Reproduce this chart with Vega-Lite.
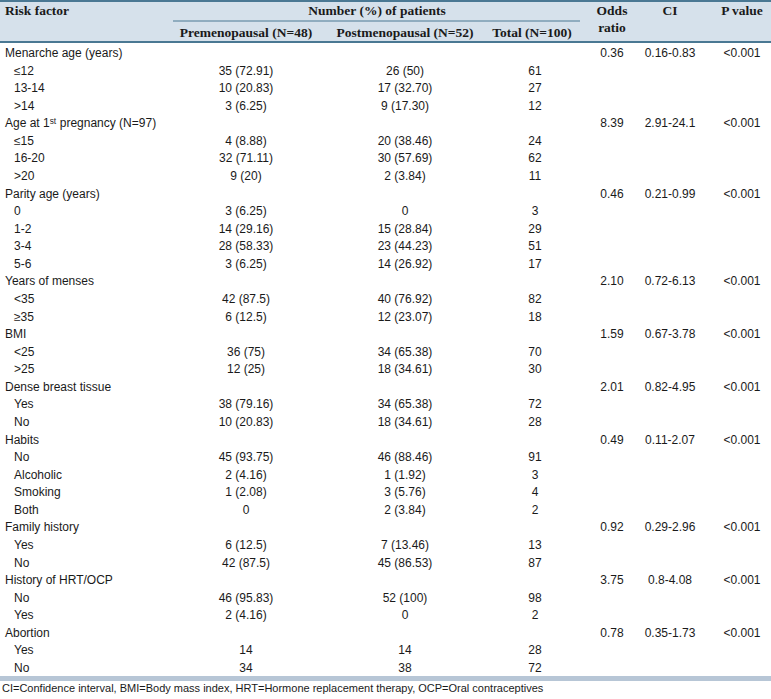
{
  "$schema": "https://vega.github.io/schema/vega-lite/v6.json",
  "width": 771,
  "height": 699,
  "autosize": "none",
  "padding": 0,
  "background": "white",
  "config": {"view": {"stroke": null}},
  "datasets": {
    "cols": [
      {"k": "g", "i": 0}, {"k": "s", "i": 1}, {"k": "pre", "i": 2}, {"k": "post", "i": 3},
      {"k": "total", "i": 4}, {"k": "or", "i": 5}, {"k": "ci", "i": 6}, {"k": "p", "i": 7}
    ],
    "rows": [
      {"r": 1, "lvl": "g", "f": "Menarche age (years)", "or": "0.36", "ci": "0.16-0.83", "p": "<0.001"},
      {"r": 2, "lvl": "s", "f": "≤12", "pre": "35 (72.91)", "post": "26 (50)", "total": "61"},
      {"r": 3, "lvl": "s", "f": "13-14", "pre": "10 (20.83)", "post": "17 (32.70)", "total": "27"},
      {"r": 4, "lvl": "s", "f": ">14", "pre": "3 (6.25)", "post": "9 (17.30)", "total": "12"},
      {"r": 5, "lvl": "g", "f": "Age at 1ˢᵗ pregnancy (N=97)", "or": "8.39", "ci": "2.91-24.1", "p": "<0.001"},
      {"r": 6, "lvl": "s", "f": "≤15", "pre": "4 (8.88)", "post": "20 (38.46)", "total": "24"},
      {"r": 7, "lvl": "s", "f": "16-20", "pre": "32 (71.11)", "post": "30 (57.69)", "total": "62"},
      {"r": 8, "lvl": "s", "f": ">20", "pre": "9 (20)", "post": "2 (3.84)", "total": "11"},
      {"r": 9, "lvl": "g", "f": "Parity age (years)", "or": "0.46", "ci": "0.21-0.99", "p": "<0.001"},
      {"r": 10, "lvl": "s", "f": "0", "pre": "3 (6.25)", "post": "0", "total": "3"},
      {"r": 11, "lvl": "s", "f": "1-2", "pre": "14 (29.16)", "post": "15 (28.84)", "total": "29"},
      {"r": 12, "lvl": "s", "f": "3-4", "pre": "28 (58.33)", "post": "23 (44.23)", "total": "51"},
      {"r": 13, "lvl": "s", "f": "5-6", "pre": "3 (6.25)", "post": "14 (26.92)", "total": "17"},
      {"r": 14, "lvl": "g", "f": "Years of menses", "or": "2.10", "ci": "0.72-6.13", "p": "<0.001"},
      {"r": 15, "lvl": "s", "f": "<35", "pre": "42 (87.5)", "post": "40 (76.92)", "total": "82"},
      {"r": 16, "lvl": "s", "f": "≥35", "pre": "6 (12.5)", "post": "12 (23.07)", "total": "18"},
      {"r": 17, "lvl": "g", "f": "BMI", "or": "1.59", "ci": "0.67-3.78", "p": "<0.001"},
      {"r": 18, "lvl": "s", "f": "<25", "pre": "36 (75)", "post": "34 (65.38)", "total": "70"},
      {"r": 19, "lvl": "s", "f": ">25", "pre": "12 (25)", "post": "18 (34.61)", "total": "30"},
      {"r": 20, "lvl": "g", "f": "Dense breast tissue", "or": "2.01", "ci": "0.82-4.95", "p": "<0.001"},
      {"r": 21, "lvl": "s", "f": "Yes", "pre": "38 (79.16)", "post": "34 (65.38)", "total": "72"},
      {"r": 22, "lvl": "s", "f": "No", "pre": "10 (20.83)", "post": "18 (34.61)", "total": "28"},
      {"r": 23, "lvl": "g", "f": "Habits", "or": "0.49", "ci": "0.11-2.07", "p": "<0.001"},
      {"r": 24, "lvl": "s", "f": "No", "pre": "45 (93.75)", "post": "46 (88.46)", "total": "91"},
      {"r": 25, "lvl": "s", "f": "Alcoholic", "pre": "2 (4.16)", "post": "1 (1.92)", "total": "3"},
      {"r": 26, "lvl": "s", "f": "Smoking", "pre": "1 (2.08)", "post": "3 (5.76)", "total": "4"},
      {"r": 27, "lvl": "s", "f": "Both", "pre": "0", "post": "2 (3.84)", "total": "2"},
      {"r": 28, "lvl": "g", "f": "Family history", "or": "0.92", "ci": "0.29-2.96", "p": "<0.001"},
      {"r": 29, "lvl": "s", "f": "Yes", "pre": "6 (12.5)", "post": "7 (13.46)", "total": "13"},
      {"r": 30, "lvl": "s", "f": "No", "pre": "42 (87.5)", "post": "45 (86.53)", "total": "87"},
      {"r": 31, "lvl": "g", "f": "History of HRT/OCP", "or": "3.75", "ci": "0.8-4.08", "p": "<0.001"},
      {"r": 32, "lvl": "s", "f": "No", "pre": "46 (95.83)", "post": "52 (100)", "total": "98"},
      {"r": 33, "lvl": "s", "f": "Yes", "pre": "2 (4.16)", "post": "0", "total": "2"},
      {"r": 34, "lvl": "g", "f": "Abortion", "or": "0.78", "ci": "0.35-1.73", "p": "<0.001"},
      {"r": 35, "lvl": "s", "f": "Yes", "pre": "14", "post": "14", "total": "28"},
      {"r": 36, "lvl": "s", "f": "No", "pre": "34", "post": "38", "total": "72"}
    ],
    "header": [
      {"t": "Number (%) of patients", "i": 8, "r": -2},
      {"t": "Odds", "i": 5, "r": -2},
      {"t": "CI", "i": 6, "r": -2},
      {"t": "P value", "i": 7, "r": -2},
      {"t": "ratio", "i": 5, "r": -1},
      {"t": "Premenopausal (N=48)", "i": 2, "r": 0},
      {"t": "Postmenopausal (N=52)", "i": 3, "r": 0},
      {"t": "Total (N=100)", "i": 14, "r": 0}
    ]
  },
  "encoding": {
    "x": {"field": "i", "type": "quantitative", "axis": null,
      "scale": {"domain": [0,1,2,3,4,5,6,7,8,9,10,11,12,13,14], "range": [5,14,246,405,535,612,670,742,377,0,771,173,580,2,532], "zero": false, "nice": false}},
    "y": {"field": "r", "type": "quantitative", "axis": null,
      "scale": {"domain": [-7,-6,-5,-4,-3,-2,-1,0,1,36,37], "range": [0,42,21,678.5,1,11,28,33,53,668,689], "zero": false, "nice": false}}
  },
  "layer": [
    {
      "data": {"values": [{"i": 9, "i2": 10, "r": -7, "r2": -6}]},
      "mark": {"type": "rect", "color": "#d6e1eb"},
      "encoding": {"x2": {"field": "i2"}, "y2": {"field": "r2"}}
    },
    {
      "data": {"values": [{"i": 9, "i2": 10, "r": -3}, {"i": 9, "i2": 10, "r": -6}]},
      "mark": {"type": "rule", "color": "#4a7893", "strokeWidth": 2},
      "encoding": {"x2": {"field": "i2"}}
    },
    {
      "data": {"values": [{"i": 11, "i2": 12, "r": -5}]},
      "mark": {"type": "rule", "color": "#4a7893", "strokeWidth": 1},
      "encoding": {"x2": {"field": "i2"}}
    },
    {
      "data": {"values": [{"i": 9, "i2": 10, "r": -4}]},
      "mark": {"type": "rule", "color": "#b7c6d6", "strokeWidth": 5},
      "encoding": {"x2": {"field": "i2"}}
    },
    {
      "data": {"values": [{"t": "Risk factor", "i": 0, "r": -2}]},
      "mark": {"type": "text", "align": "left", "baseline": "middle", "font": "Liberation Serif", "fontWeight": "bold", "fontSize": 13.5, "color": "#1a1a1a"},
      "encoding": {"text": {"field": "t"}}
    },
    {
      "data": {"name": "header"},
      "mark": {"type": "text", "align": "center", "baseline": "middle", "font": "Liberation Serif", "fontWeight": "bold", "fontSize": 13.5, "color": "#1a1a1a"},
      "encoding": {"text": {"field": "t"}}
    },
    {
      "data": {"name": "rows"},
      "transform": [
        {"lookup": "lvl", "from": {"data": {"name": "cols"}, "key": "k", "fields": ["i"]}}
      ],
      "mark": {"type": "text", "align": "left", "baseline": "middle", "font": "Liberation Sans", "fontSize": 12, "color": "#1a1a1a"},
      "encoding": {"text": {"field": "f"}}
    },
    {
      "data": {"name": "rows"},
      "transform": [
        {"fold": ["pre", "post", "total", "or", "ci", "p"], "as": ["k", "v"]},
        {"filter": "datum.v != null"},
        {"lookup": "k", "from": {"data": {"name": "cols"}, "key": "k", "fields": ["i"]}}
      ],
      "mark": {"type": "text", "align": "center", "baseline": "middle", "font": "Liberation Sans", "fontSize": 12, "color": "#1a1a1a"},
      "encoding": {"text": {"field": "v"}}
    },
    {
      "data": {"values": [{"t": "CI=Confidence interval, BMI=Body mass index, HRT=Hormone replacement therapy, OCP=Oral contraceptives", "i": 13, "r": 37}]},
      "mark": {"type": "text", "align": "left", "baseline": "middle", "font": "Liberation Sans", "fontSize": 11, "color": "#1a1a1a"},
      "encoding": {"text": {"field": "t"}}
    }
  ]
}
